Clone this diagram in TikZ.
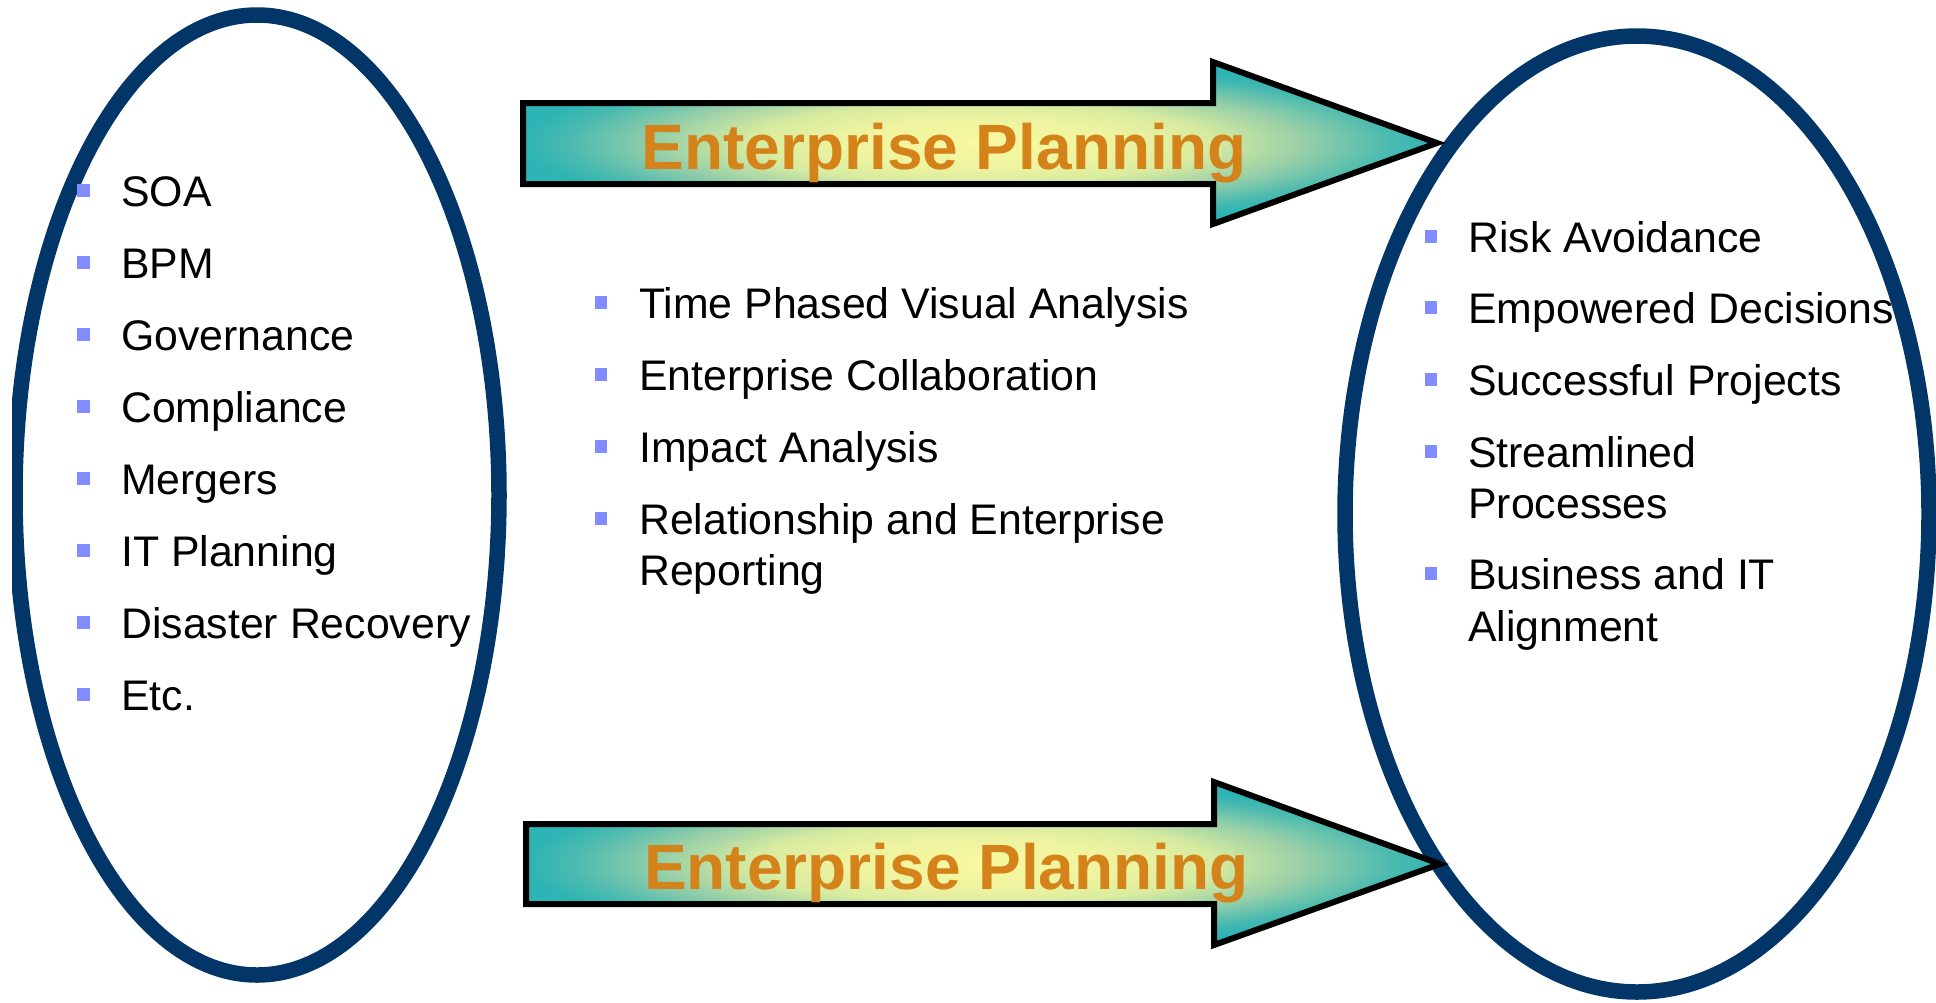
\documentclass[tikz,border=0pt]{standalone}
\usepackage{fontspec}
\setmainfont{Liberation Sans}
\usetikzlibrary{shapes.geometric}
\definecolor{navy}{RGB}{3,54,104}
\definecolor{bulletblue}{RGB}{128,140,255}
\definecolor{eporange}{RGB}{212,130,26}
\definecolor{epA}{RGB}{248,249,160}
\definecolor{epB}{RGB}{238,243,160}
\definecolor{epC}{RGB}{216,235,160}
\definecolor{epD}{RGB}{154,208,168}
\definecolor{epE}{RGB}{74,186,176}
\definecolor{epF}{RGB}{45,180,180}
% with \pgfshadepath the central 50bp square is mapped onto the path's bounding box
\pgfdeclareradialshading{epshade}{\pgfpoint{0bp}{0bp}}{color(0bp)=(epA); color(7.5bp)=(epB); color(12.5bp)=(epC); color(17.5bp)=(epD); color(22.5bp)=(epE); color(25bp)=(epF); color(50bp)=(epF)}
\begin{document}
\begin{tikzpicture}[x=1pt,y=-1pt,
  ring/.style={draw=navy, line width=15.5pt, ellipse, inner sep=0pt},
  bul/.style={rectangle, fill=bulletblue, minimum size=12.5pt, inner sep=0pt},
  item/.style={anchor=base west, inner sep=0pt, font=\fontsize{42.8}{51}\selectfont},
  eparrow/.style={draw=black, line width=6pt, shading=epshade, line join=miter},
  eplabel/.style={anchor=base west, inner sep=0pt, text=eporange, font=\fontsize{64}{70}\selectfont\bfseries}]
\useasboundingbox (0,0) rectangle (1936,1002);
% ellipses
\begin{scope}
  \clip (12,0) rectangle (1936,1002);
  \node[ring, minimum width=484pt, minimum height=960pt] (L) at (257,495) {};
\end{scope}
\node[ring, minimum width=584pt, minimum height=956pt] (R) at (1637,514) {};
% arrows
\path[eparrow] (523,103) -- (1213,103) -- (1213,62) -- (1437,143) -- (1213,224) -- (1213,184) -- (523,184) -- cycle;
\node[eplabel] (ep1) at (641.5,169) {Enterprise Planning};
\path[eparrow] (526,824) -- (1214,824) -- (1214,782) -- (1440,864) -- (1214,945) -- (1214,904) -- (526,904) -- cycle;
\node[eplabel] (ep2) at (644,889) {Enterprise Planning};
% left list
\foreach \t [count=\i] in {SOA, BPM, Governance, Compliance, Mergers, IT Planning, Disaster Recovery, Etc.} {
  \pgfmathsetmacro{\yb}{206+72*(\i-1)}
  \node[bul] (lb\i) at (83.5,\yb-15.5) {};
  \node[item] (lt\i) at (121,\yb) {\t};
}
% middle list
\node[bul] (mb1) at (601,302.5) {};
\node[item] (mt1) at (639,318) {Time Phased Visual Analysis};
\node[bul] (mb2) at (601,374.5) {};
\node[item] (mt2) at (639,390) {Enterprise Collaboration};
\node[bul] (mb3) at (601,446.5) {};
\node[item] (mt3) at (639,462) {Impact Analysis};
\node[bul] (mb4) at (601,518.5) {};
\node[item] (mt4) at (639,534) {Relationship and Enterprise};
\node[item] (mt4b) at (639,585) {Reporting};
% right list
\node[bul] (rb1) at (1431,236.5) {};
\node[item] (rt1) at (1468,252) {Risk Avoidance};
\node[bul] (rb2) at (1431,307.5) {};
\node[item] (rt2) at (1468,323) {Empowered Decisions};
\node[bul] (rb3) at (1431,379.5) {};
\node[item] (rt3) at (1468,395) {Successful Projects};
\node[bul] (rb4) at (1431,451.5) {};
\node[item] (rt4) at (1468,467) {Streamlined};
\node[item] (rt4b) at (1468,518) {Processes};
\node[bul] (rb5) at (1431,573.5) {};
\node[item] (rt5) at (1468,589) {Business and IT};
\node[item] (rt5b) at (1468,641) {Alignment};
\end{tikzpicture}
\end{document}
